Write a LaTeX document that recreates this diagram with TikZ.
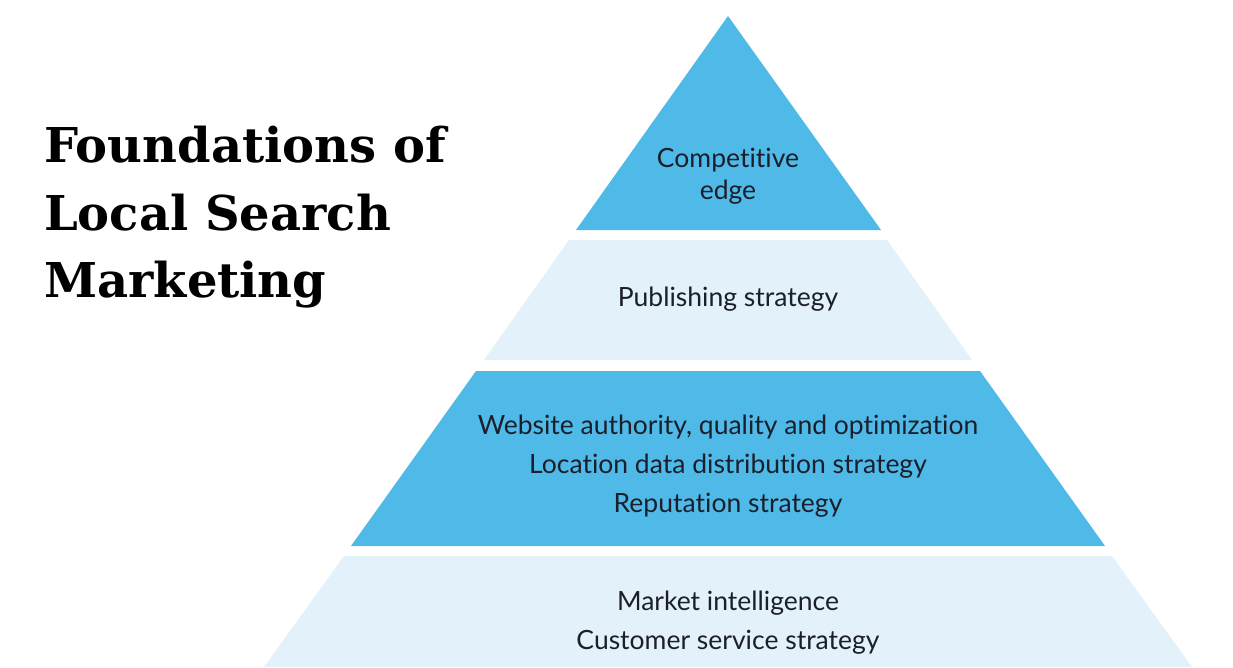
\documentclass[tikz,border=0pt]{standalone}
\usepackage{fontspec}
\setmainfont{Lato}[Ligatures=CommonOff]
\newfontfamily\titlefont{DejaVu Serif}
\definecolor{darkblue}{HTML}{4FBAE8}
\definecolor{lightblue}{HTML}{E3F2FA}
\definecolor{txt}{HTML}{1B1E2B}
\begin{document}
\begin{tikzpicture}[x=1pt,y=-1pt,
  lvltext/.style={text=txt,font=\fontsize{26.5}{39}\selectfont,align=center,inner sep=0pt},
  dark/.style={fill=darkblue},
  light/.style={fill=lightblue}]
\useasboundingbox (0,0) rectangle (1233,667);
\fill[white] (0,0) rectangle (1233,667);
% pyramid levels
\fill[dark]  (728,16) -- (881,230) -- (576,230) -- cycle;
\fill[light] (569,240) -- (887,240) -- (972,360) -- (484,360) -- cycle;
\fill[dark]  (476,371) -- (980,371) -- (1105,546) -- (351,546) -- cycle;
\fill[light] (344,556) -- (1112,556) -- (1192,667) -- (264,667) -- cycle;
% texts
\node[lvltext,font=\fontsize{26.5}{32}\selectfont] (l1) at (728,176) {Competitive\\edge};
\node[lvltext] (l2) at (728,299) {Publishing strategy};
\node[lvltext] (l3) at (728,466) {Website authority, quality and optimization\\Location data distribution strategy\\Reputation strategy};
\node[lvltext] (l4) at (728,623) {Market intelligence\\Customer service strategy};
% title
\node[anchor=north west,align=left,inner sep=0pt,font=\titlefont\bfseries\fontsize{48}{67.5}\selectfont,text=black] (title) at (44,126) {Foundations of\\Local Search\\Marketing};
\end{tikzpicture}
\end{document}
